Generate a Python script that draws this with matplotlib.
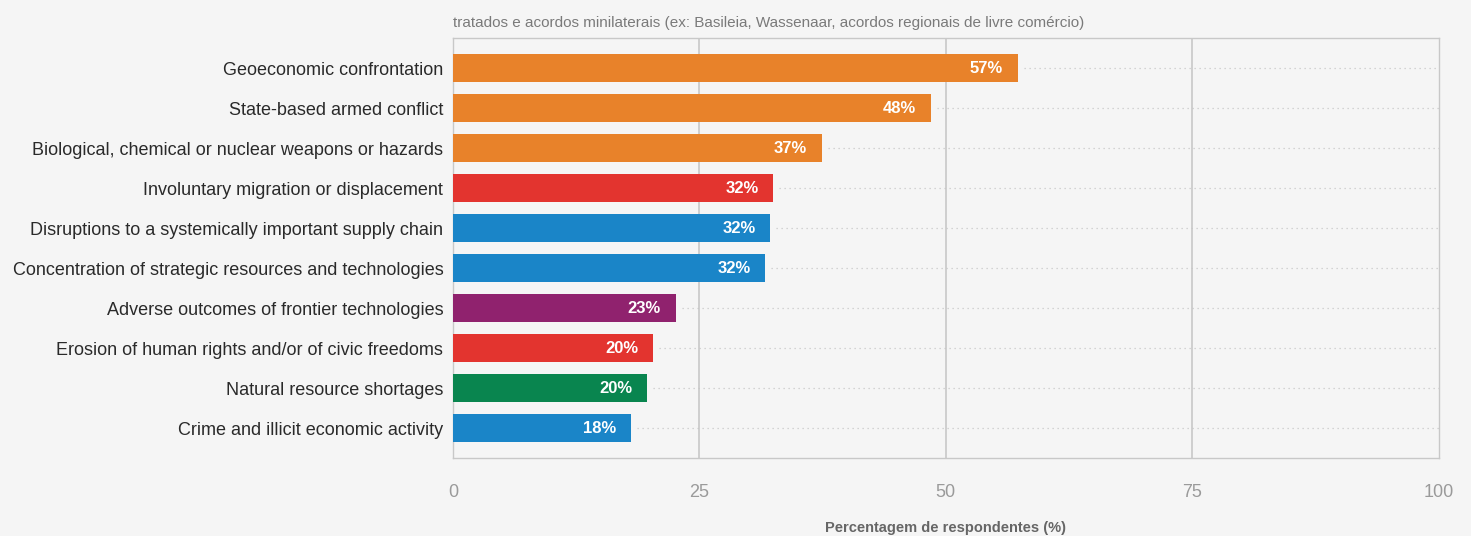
import matplotlib.pyplot as plt
import numpy as np

plt.rcParams['font.family'] = ['Liberation Sans', 'DejaVu Sans']

riscos = [
    "Geoeconomic confrontation",
    "State-based armed conflict",
    "Biological, chemical or nuclear weapons or hazards",
    "Involuntary migration or displacement",
    "Disruptions to a systemically important supply chain",
    "Concentration of strategic resources and technologies",
    "Adverse outcomes of frontier technologies",
    "Erosion of human rights and/or of civic freedoms",
    "Natural resource shortages",
    "Crime and illicit economic activity",
]
percentagens = [57.3, 48.5, 37.4, 32.5, 32.2, 31.7, 22.6, 20.3, 19.7, 18.1]
categorias = ["geo", "geo", "geo", "soc", "eco", "eco", "tec", "soc", "amb", "eco"]

cores = {
    "geo": "#E8822A",
    "soc": "#E3342F",
    "eco": "#1A85C8",
    "tec": "#90226E",
    "amb": "#09854F",
}

fundo = "#F5F5F5"
fig = plt.figure(figsize=(14.71, 5.36), dpi=100, facecolor=fundo)
ax = fig.add_axes([0.308, 0.1455, 0.670, 0.7835], facecolor=fundo)

y = np.arange(len(riscos))
ax.barh(y, percentagens, height=0.68, color=[cores[c] for c in categorias], zorder=3)

# linhas pontilhadas do fim da barra ate a borda direita
for yi, v in zip(y, percentagens):
    ax.plot([v + 0.6, 100], [yi, yi], linestyle=(0, (1, 3)), color="#c8c8c8",
            linewidth=0.9, zorder=1)
    ax.text(v - 1.5, yi, f"{v:.0f}%", ha="right", va="center", color="white",
            fontsize=12, fontweight="bold", zorder=4)

for gx in [25, 50, 75]:
    ax.axvline(gx, color="#c4c4c4", linewidth=1.1, zorder=2)

ax.set_xlim(0, 100)
ax.set_ylim(len(riscos) - 0.25, -0.75)
ax.set_xticks([0, 25, 50, 75, 100])
ax.set_xticklabels(["0", "25", "50", "75", "100"], color="#9a9a9a", fontsize=13)
ax.set_yticks(y)
ax.set_yticklabels(riscos, fontsize=13, color="#2a2a2a")
ax.tick_params(axis="both", length=0)
ax.tick_params(axis="x", pad=19)
ax.tick_params(axis="y", pad=7)

for s in ax.spines.values():
    s.set_color("#c8c8c8")
    s.set_linewidth(1.0)

ax.set_xlabel("Percentagem de respondentes (%)", fontsize=10.5, fontweight="bold",
              color="#666666", labelpad=14)

fig.text(0.308, 0.958, "tratados e acordos minilaterais (ex: Basileia, Wassenaar, acordos regionais de livre comércio)",
         fontsize=11, color="#7a7a7a", ha="left", va="center")

fig.savefig("out.png", dpi=100, facecolor=fundo)
